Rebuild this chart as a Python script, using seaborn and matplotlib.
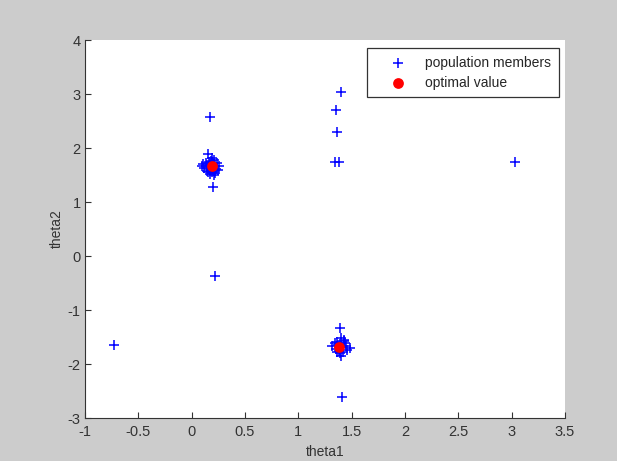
import matplotlib
matplotlib.use("Agg")
import matplotlib.pyplot as plt
import seaborn as sns
import pandas as pd

# population members
theta1 = [0.18, 0.15, 0.19, 0.10, 0.26, 0.14, 0.22, 0.17, 0.21, 0.13, 0.24, 0.16, 0.20, 0.23,
          0.12, 0.18, 0.19, 0.25, 0.17, 0.21, 0.15, 0.11, 0.16, 0.22, 0.14, 0.20,
          0.17, 0.20, 0.22, -0.73,
          1.39, 1.40, 1.36, 1.44, 1.32, 1.48, 1.38, 1.42, 1.40, 1.35, 1.45, 1.37, 1.41, 1.43,
          1.34, 1.39, 1.46, 1.36, 1.43, 1.41,
          1.40, 1.35, 1.36, 1.34, 1.38, 3.03]
theta2 = [1.67, 1.88, 1.82, 1.66, 1.66, 1.58, 1.58, 1.52, 1.50, 1.72, 1.73, 1.62, 1.70, 1.62,
          1.63, 1.76, 1.56, 1.60, 1.68, 1.78, 1.55, 1.70, 1.74, 1.54, 1.66, 1.61,
          2.57, 1.28, -0.37, -1.65,
          -1.33, -1.52, -1.60, -1.62, -1.67, -1.70, -1.75, -1.78, -1.86, -1.72, -1.66, -1.64, -1.69, -1.58,
          -1.62, -1.80, -1.74, -1.77, -1.55, -2.61,
          3.04, 2.70, 2.29, 1.74, 1.74, 1.74]

# optimal values
opt_theta1 = [0.19, 1.38]
opt_theta2 = [1.67, -1.68]

xticks = [-1, -0.5, 0, 0.5, 1, 1.5, 2, 2.5, 3, 3.5]
xtick_labels = ["-1", "-0.5", "0", "0.5", "1", "1.5", "2", "2.5", "3", "3.5"]
yticks = [-3, -2, -1, 0, 1, 2, 3, 4]
ytick_labels = ["-3", "-2", "-1", "0", "1", "2", "3", "4"]

pop = pd.DataFrame({"theta1": theta1, "theta2": theta2})
opt = pd.DataFrame({"theta1": opt_theta1, "theta2": opt_theta2})

sns.set_style("white")
plt.rcParams["font.family"] = ["Liberation Sans", "DejaVu Sans"]

fig = plt.figure(figsize=(6.17, 4.61), dpi=100, facecolor="#cccccc")
ax = fig.add_axes([85 / 617, 43 / 461, 480 / 617, 378 / 461])
ax.set_facecolor("white")

sns.scatterplot(data=pop, x="theta1", y="theta2", marker="+", color="#0000ff",
                s=50, linewidth=1.1, label="population members", ax=ax, zorder=2)
sns.scatterplot(data=opt, x="theta1", y="theta2", marker="o", color="#ff0000",
                s=60, edgecolor="#ff0000", linewidth=0, label="optimal value", ax=ax, zorder=3)

ax.set_xlim(-1, 3.5)
ax.set_ylim(-3, 4)
ax.set_xticks(xticks)
ax.set_xticklabels(xtick_labels)
ax.set_yticks(yticks)
ax.set_yticklabels(ytick_labels)
ax.tick_params(direction="in", length=4, width=0.8, labelsize=10.5, colors="#333333",
               bottom=True, left=True, top=False, right=False)
ax.tick_params(axis="x", pad=5)
ax.tick_params(axis="y", pad=3)
for s in ["top", "right"]:
    ax.spines[s].set_visible(False)
for s in ["left", "bottom"]:
    ax.spines[s].set_color("#333333")
    ax.spines[s].set_linewidth(0.8)

ax.set_xlabel("theta1", fontsize=10, color="#333333", labelpad=4)
ax.set_ylabel("theta2", fontsize=10, color="#333333", labelpad=3)

leg = ax.legend(loc="upper right", bbox_to_anchor=(0.9875, 0.979), fontsize=10,
                frameon=True, fancybox=False, edgecolor="#333333", framealpha=1,
                borderpad=0.55, handletextpad=0.22, handlelength=3.45, labelspacing=0.45,
                borderaxespad=0)
leg.get_frame().set_linewidth(0.9)

fig.savefig("out.png", dpi=100, facecolor=fig.get_facecolor())
